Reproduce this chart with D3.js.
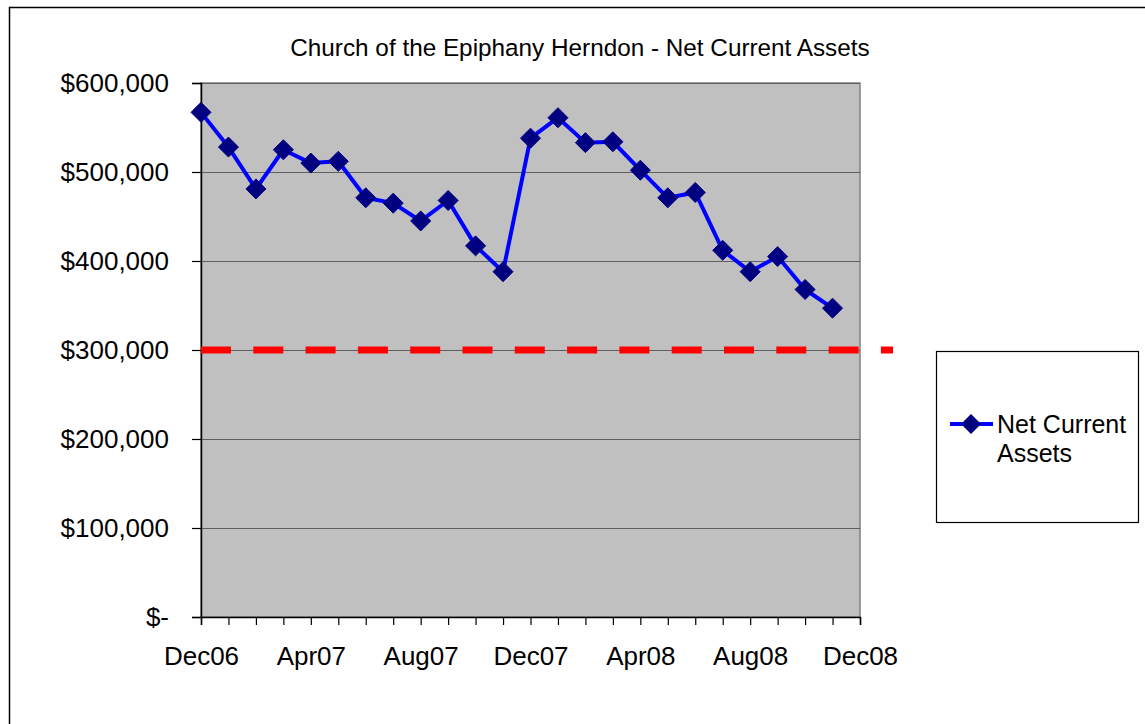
<!DOCTYPE html>
<html>
<head>
<meta charset="utf-8">
<script src="https://cdn.jsdelivr.net/npm/d3@7"></script>
<style>
  html, body { margin: 0; padding: 0; background: #fff; }
  svg { display: block; }
  text { font-family: "Liberation Sans", Arial, sans-serif; fill: #000; }
</style>
</head>
<body>
<svg id="chart" width="1145" height="724"></svg>
<script>
// ---- data ----
const months = ["Dec06","Jan07","Feb07","Mar07","Apr07","May07","Jun07","Jul07","Aug07","Sep07","Oct07","Nov07",
                "Dec07","Jan08","Feb08","Mar08","Apr08","May08","Jun08","Jul08","Aug08","Sep08","Oct08","Nov08","Dec08"];
const netCurrentAssets = [567000, 528000, 481000, 525000, 510000, 512000, 471000, 465000, 445000, 468000, 417000, 388000,
                          538000, 561000, 533000, 534000, 502000, 471000, 477000, 412000, 388000, 405000, 368000, 347000];
const threshold = 300000;
const yTicks = [0, 100000, 200000, 300000, 400000, 500000, 600000];
const xLabels = ["Dec06","Apr07","Aug07","Dec07","Apr08","Aug08","Dec08"];
const titleText = "Church of the Epiphany Herndon - Net Current Assets";
const seriesName = ["Net Current", "Assets"];

// ---- layout ----
const svg = d3.select("#chart");
const plot = {left: 201, right: 860, top: 83, bottom: 617};

// outer chart border
svg.append("rect").attr("x", 9.5).attr("y", 7.5).attr("width", 1300).attr("height", 900)
  .attr("fill", "none").attr("stroke", "#000").attr("stroke-width", 1.5);

const x = d3.scalePoint().domain(months).range([plot.left, plot.right]);
const y = d3.scaleLinear().domain([0, 600000]).range([plot.bottom, plot.top]);

// plot background
svg.append("rect").attr("x", plot.left).attr("y", plot.top)
  .attr("width", plot.right - plot.left).attr("height", plot.bottom - plot.top)
  .attr("fill", "#C0C0C0").attr("stroke", "#808080").attr("stroke-width", 1.5);

// gridlines
svg.append("g").selectAll("line").data(yTicks.filter(d => d > 0)).join("line")
  .attr("x1", plot.left).attr("x2", plot.right)
  .attr("y1", d => Math.round(y(d)) + 0.5).attr("y2", d => Math.round(y(d)) + 0.5)
  .attr("stroke", "#5f5f5f").attr("stroke-width", 1.2);

// y axis
const yAxis = d3.axisLeft(y).tickValues(yTicks).tickSize(9).tickPadding(23)
  .tickFormat(d => d === 0 ? "$-" : "$" + d3.format(",")(d));
const gy = svg.append("g").attr("transform", `translate(${plot.left},0)`).call(yAxis);
gy.select(".domain").attr("stroke", "#000").attr("stroke-width", 1.5);
gy.selectAll(".tick line").attr("stroke", "#000").attr("stroke-width", 1.2);
gy.selectAll(".tick text").attr("font-size", 26).attr("font-family", "Liberation Sans, Arial, sans-serif").attr("fill", "#000");

// x axis
const xAxis = d3.axisBottom(x).tickSize(8).tickPadding(22)
  .tickFormat(d => xLabels.includes(d) ? d : "");
const gx = svg.append("g").attr("transform", `translate(0,${plot.bottom})`).call(xAxis);
gx.select(".domain").attr("stroke", "#000").attr("stroke-width", 1.5);
gx.selectAll(".tick line").attr("stroke", "#000").attr("stroke-width", 1.2);
gx.selectAll(".tick text").attr("font-size", 26).attr("font-family", "Liberation Sans, Arial, sans-serif").attr("fill", "#000");

// threshold dashed line
svg.append("line")
  .attr("x1", plot.left).attr("x2", 893)
  .attr("y1", y(threshold)).attr("y2", y(threshold))
  .attr("stroke", "#FF0000").attr("stroke-width", 7)
  .attr("stroke-dasharray", "30,22.3");

// series line
const line = d3.line().x((d, i) => x(months[i])).y(d => y(d));
svg.append("path").datum(netCurrentAssets).attr("d", line)
  .attr("fill", "none").attr("stroke", "#0000FF").attr("stroke-width", 4).attr("stroke-linejoin", "round");

// markers
svg.append("g").selectAll("path").data(netCurrentAssets).join("path")
  .attr("transform", (d, i) => `translate(${x(months[i])},${y(d)})`)
  .attr("d", "M0,-10L10,0L0,10L-10,0Z")
  .attr("fill", "#000080").attr("stroke", "#000080").attr("stroke-width", 1);

// title
svg.append("text").attr("x", 580).attr("y", 56).attr("text-anchor", "middle")
  .attr("font-size", 24.3).text(titleText);

// legend
const lg = svg.append("g");
lg.append("rect").attr("x", 936.5).attr("y", 351.5).attr("width", 202).attr("height", 171)
  .attr("fill", "#fff").attr("stroke", "#000").attr("stroke-width", 1.2);
lg.append("line").attr("x1", 950).attr("x2", 993).attr("y1", 424).attr("y2", 424)
  .attr("stroke", "#0000FF").attr("stroke-width", 4);
lg.append("path").attr("transform", "translate(971,424)").attr("d", "M0,-10L10,0L0,10L-10,0Z")
  .attr("fill", "#000080");
lg.append("text").attr("x", 997).attr("y", 433).attr("font-size", 25).text(seriesName[0]);
lg.append("text").attr("x", 997).attr("y", 462).attr("font-size", 25).text(seriesName[1]);
</script>
</body>
</html>
